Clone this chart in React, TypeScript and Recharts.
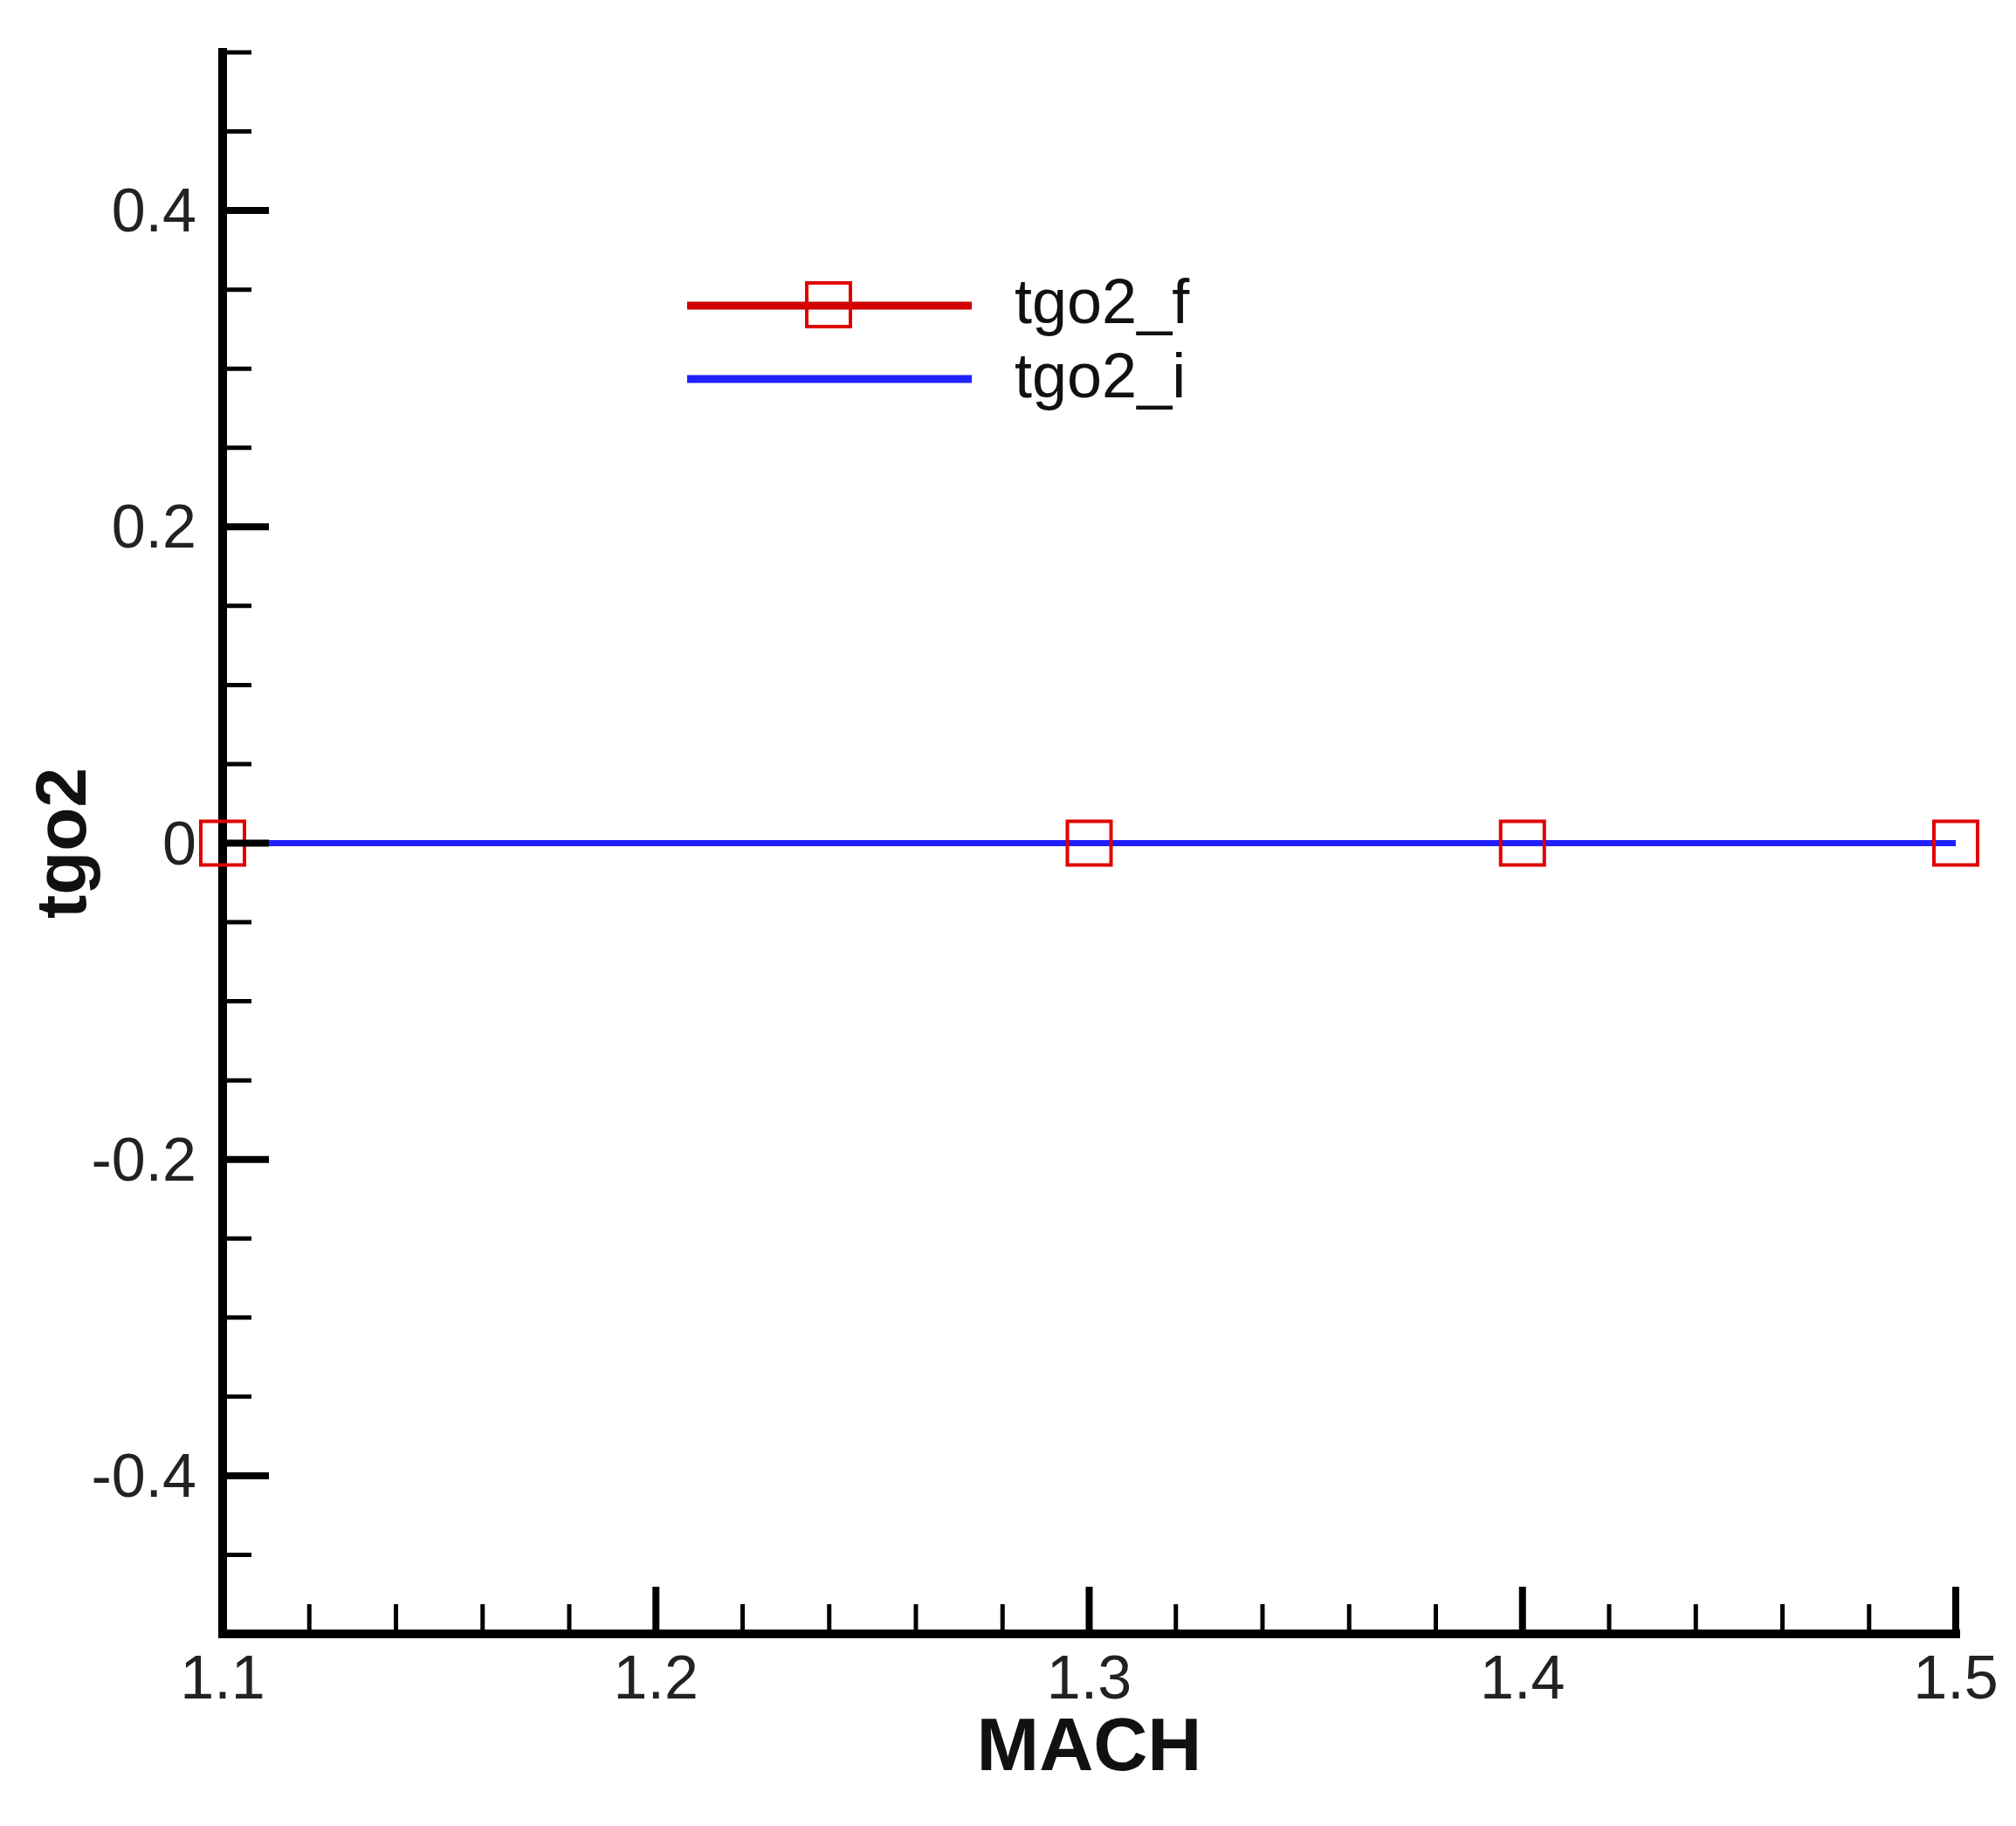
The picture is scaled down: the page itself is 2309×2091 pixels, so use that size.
import React from 'react';
import { LineChart, Line, XAxis, YAxis, Legend, Label } from 'recharts';

// MACH sweep, both series sit on zero
const machValues = [1.1, 1.3, 1.4, 1.5];
const tgo2F = [0, 0, 0, 0];
const tgo2I = [0, 0, 0, 0];

const xTicks = [
  1.1, 1.12, 1.14, 1.16, 1.18, 1.2, 1.22, 1.24, 1.26, 1.28, 1.3,
  1.32, 1.34, 1.36, 1.38, 1.4, 1.42, 1.44, 1.46, 1.48, 1.5
];
const xMajorTicks = [1.1, 1.2, 1.3, 1.4, 1.5];
const yTicks = [
  -0.5, -0.45, -0.4, -0.35, -0.3, -0.25, -0.2, -0.15, -0.1, -0.05, 0,
  0.05, 0.1, 0.15, 0.2, 0.25, 0.3, 0.35, 0.4, 0.45, 0.5
];
const yMajorTicks = [-0.4, -0.2, 0, 0.2, 0.4];

const seriesNames = ['tgo2_f', 'tgo2_i'];

const RED = '#e00000';
const RED_LINE = '#d00000';
const BLUE = '#1f1fff';
const FONT = '"Liberation Sans", Arial, Helvetica, sans-serif';

const data = machValues.map((m, i) => ({ mach: m, tgo2_f: tgo2F[i], tgo2_i: tgo2I[i] }));

const isMajor = (list: number[], v: number) => list.some((t) => Math.abs(t - v) < 1e-6);

const XTick = (props: any) => {
  const { x, y, payload } = props;
  const major = isMajor(xMajorTicks, payload.value);
  return (
    <g>
      <line
        x1={x}
        x2={x}
        y1={y}
        y2={y - (major ? 54 : 34)}
        stroke="#000"
        strokeWidth={major ? 8 : 5}
      />
      {major && (
        <text x={x} y={y + 74} textAnchor="middle" fontSize={70} fontFamily={FONT} fill="#222">
          {payload.value.toFixed(1)}
        </text>
      )}
    </g>
  );
};

const YTick = (props: any) => {
  const { x, y, payload } = props;
  const major = isMajor(yMajorTicks, payload.value);
  const v = payload.value;
  const label = Math.abs(v) < 1e-6 ? '0' : v.toFixed(1);
  return (
    <g>
      <line
        x1={x}
        x2={x + (major ? 53 : 33)}
        y1={y}
        y2={y}
        stroke="#000"
        strokeWidth={major ? 8 : 5}
      />
      {major && (
        <text
          x={x - 30}
          y={y}
          textAnchor="end"
          dominantBaseline="central"
          fontSize={70}
          fontFamily={FONT}
          fill="#222"
        >
          {label}
        </text>
      )}
    </g>
  );
};

const SquareDot = (props: any) => {
  const { cx, cy, index } = props;
  if (cx == null || cy == null) return null;
  return (
    <rect
      key={`sq-${index}`}
      x={cx - 25}
      y={cy - 25}
      width={50}
      height={50}
      fill="none"
      stroke={RED}
      strokeWidth={4}
    />
  );
};

const renderLegend = () => (
  <svg width={620} height={190}>
    <line x1={7} x2={333} y1={60} y2={60} stroke={RED_LINE} strokeWidth={9} />
    <rect x={144} y={34} width={50} height={50} fill="none" stroke={RED} strokeWidth={4} />
    <text x={382} y={80} fontSize={72} fontFamily={FONT} fill="#111">
      {seriesNames[0]}
    </text>
    <line x1={7} x2={333} y1={144} y2={144} stroke={BLUE} strokeWidth={9} />
    <text x={382} y={165} fontSize={72} fontFamily={FONT} fill="#111">
      {seriesNames[1]}
    </text>
  </svg>
);

export default function App() {
  return (
    <div style={{ position: 'absolute', left: 0, top: 0, background: '#fff', fontFamily: FONT }}>
      <LineChart width={2309} height={2091} data={data} margin={{ top: 60, right: 69, left: 0, bottom: 0 }}>
        <XAxis
          dataKey="mach"
          type="number"
          domain={[1.1, 1.5]}
          ticks={xTicks}
          interval={0}
          height={220}
          tickSize={0}
          tickMargin={0}
          tickLine={false}
          axisLine={{ stroke: '#000', strokeWidth: 10, strokeLinecap: 'square' }}
          tick={<XTick />}
        >
          <Label
            content={(p: any) => {
              const vb = p.viewBox;
              return (
                <text
                  x={vb.x + vb.width / 2}
                  y={vb.y + 156}
                  textAnchor="middle"
                  fontSize={86}
                  fontWeight="bold"
                  fontFamily={FONT}
                  fill="#111"
                >
                  MACH
                </text>
              );
            }}
          />
        </XAxis>
        <YAxis
          type="number"
          domain={[-0.5, 0.5]}
          ticks={yTicks}
          interval={0}
          width={255}
          tickSize={0}
          tickMargin={0}
          tickLine={false}
          axisLine={{ stroke: '#000', strokeWidth: 10, strokeLinecap: 'square' }}
          tick={<YTick />}
        >
          <Label
            content={(p: any) => {
              const vb = p.viewBox;
              const cy = vb.y + vb.height / 2;
              return (
                <text
                  x={98}
                  y={cy}
                  transform={`rotate(-90, 98, ${cy})`}
                  textAnchor="middle"
                  fontSize={82}
                  fontWeight="bold"
                  fontFamily={FONT}
                  fill="#111"
                >
                  tgo2
                </text>
              );
            }}
          />
        </YAxis>
        <Legend
          verticalAlign="middle"
          align="center"
          layout="horizontal"
          content={renderLegend}
          wrapperStyle={{ left: 780, top: 290, width: 620, height: 190 }}
        />
        <Line
          dataKey="tgo2_f"
          stroke={RED_LINE}
          strokeWidth={7}
          dot={<SquareDot />}
          activeDot={false}
          isAnimationActive={false}
        />
        <Line
          dataKey="tgo2_i"
          stroke={BLUE}
          strokeWidth={7}
          dot={false}
          activeDot={false}
          isAnimationActive={false}
        />
      </LineChart>
    </div>
  );
}
